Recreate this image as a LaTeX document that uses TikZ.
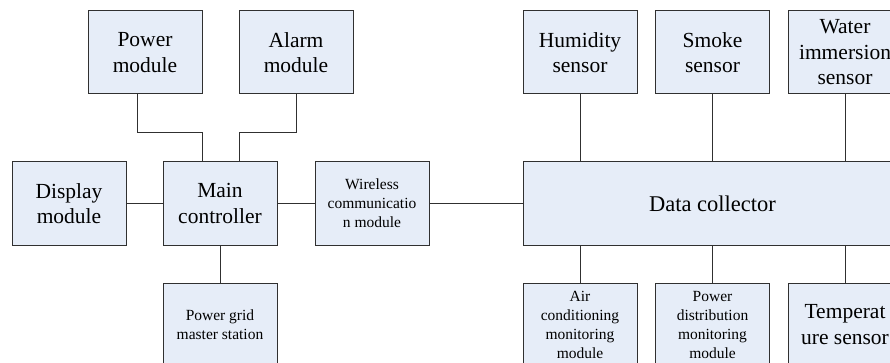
\documentclass[tikz,border=0pt]{standalone}
\usepackage{fontspec}
\setmainfont{Liberation Serif}
\definecolor{boxfill}{HTML}{E6EDF8}
\definecolor{boxline}{HTML}{303030}
\begin{document}
\begin{tikzpicture}[x=1pt,y=-1pt,inner sep=0pt,outer sep=0pt,line width=0.8pt,
modblock/.style={draw=boxline,fill=boxfill,rectangle,align=center,minimum width=114pt,minimum height=83pt,line width=1pt,font=\fontsize{21.5}{25.5}\selectfont},
smallblock/.style={modblock,font=\fontsize{15.5}{19}\selectfont},
link/.style={draw=boxline,line width=0.9pt}]
\useasboundingbox (0,0) rectangle (890,363);
\clip (0,0) rectangle (890,363);
\draw (145,52.5) node[modblock] (pwr) {Power\\module};
\draw (296,52.5) node[modblock] (alarm) {Alarm\\module};
\draw (69,203.5) node[modblock] (disp) {Display\\module};
\draw (220,203.5) node[modblock] (main) {Main\\controller};
\draw (372,203.5) node[smallblock] (wless) {Wireless\\communicatio\\n module};
\draw (220,324.5) node[smallblock] (grid) {Power grid\\master station};
\draw (580,52.5) node[modblock] (hum) {Humidity\\sensor};
\draw (712.5,52.5) node[modblock] (smoke) {Smoke\\sensor};
\draw (845,52.5) node[modblock] (water) {Water\\immersion\\sensor};
\draw (712.5,203.5) node[modblock,minimum width=379pt,font=\fontsize{22.5}{26}\selectfont] (dc) {Data collector};
\draw (580,324.5) node[smallblock] (aircon) {Air\\conditioning\\monitoring\\module};
\draw (712.5,324.5) node[smallblock] (pdist) {Power\\distribution\\monitoring\\module};
\draw (845,324.5) node[modblock] (temp) {Temperat\\ure sensor};
\draw[link] ([xshift=-8pt]pwr.south) -- ++(0,38) -| ([xshift=-18pt]main.north);
\draw[link] (alarm.south) -- ++(0,38) -| ([xshift=19pt]main.north);
\draw[link] (disp) -- (main);
\draw[link] (main) -- (wless);
\draw[link] (wless.east) -- (dc.west);
\draw[link] (main) -- (grid);
\draw[link] (hum.south) -- (hum.south |- dc.north);
\draw[link] (smoke.south) -- (smoke.south |- dc.north);
\draw[link] (water.south) -- (water.south |- dc.north);
\draw[link] (aircon.north) -- (aircon.north |- dc.south);
\draw[link] (pdist.north) -- (pdist.north |- dc.south);
\draw[link] (temp.north) -- (temp.north |- dc.south);
\end{tikzpicture}
\end{document}
